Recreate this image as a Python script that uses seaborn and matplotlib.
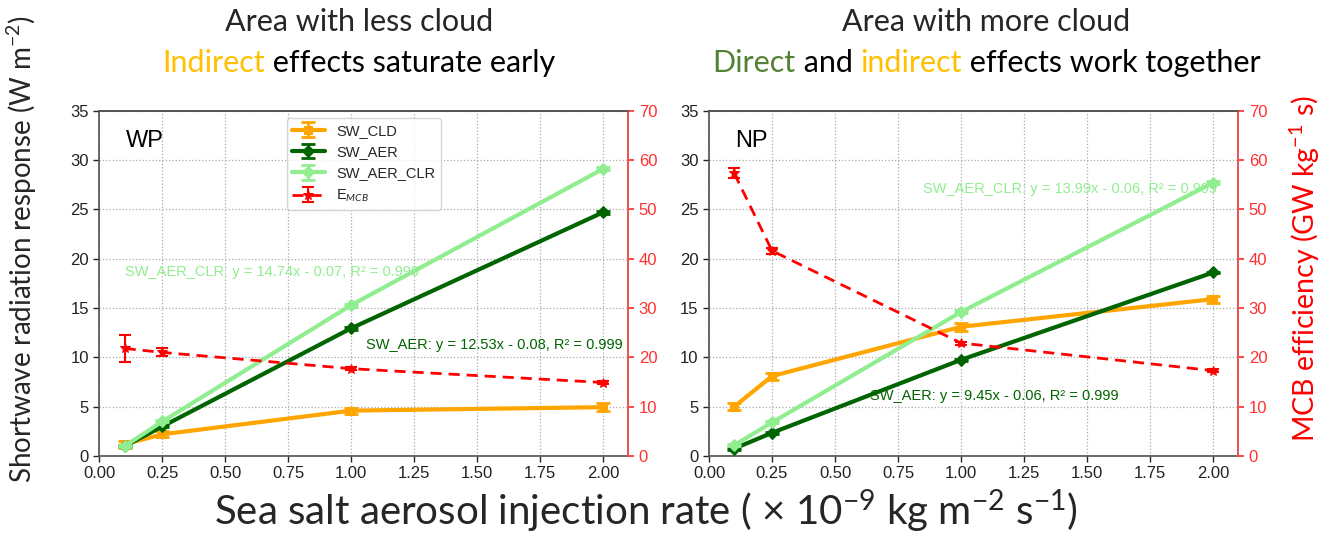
import numpy as np
import pandas as pd
import matplotlib
matplotlib.use("Agg")
import matplotlib.pyplot as plt
import seaborn as sns
from matplotlib.container import ErrorbarContainer

# ---- data -------------------------------------------------------------
rate = [0.1, 0.25, 1.0, 2.0]
regions = ["WP", "NP"]

wp_cld = [1.2, 2.2, 4.6, 4.95]
wp_cld_err = [0.35, 0.3, 0.3, 0.4]
wp_aer = [1.0, 3.0, 12.95, 24.7]
wp_aer_err = [0.1, 0.1, 0.15, 0.15]
wp_clr = [1.0, 3.5, 15.3, 29.1]
wp_clr_err = [0.1, 0.1, 0.15, 0.15]
wp_eff = [21.8, 21.0, 17.7, 14.9]
wp_eff_err = [2.8, 0.8, 0.3, 0.3]

np_cld = [5.0, 8.1, 13.1, 15.9]
np_cld_err = [0.35, 0.35, 0.4, 0.35]
np_aer = [0.75, 2.35, 9.75, 18.6]
np_aer_err = [0.1, 0.1, 0.1, 0.1]
np_clr = [1.1, 3.4, 14.6, 27.7]
np_clr_err = [0.1, 0.1, 0.15, 0.15]
np_eff = [57.3, 41.6, 22.9, 17.3]
np_eff_err = [1.0, 0.6, 0.3, 0.3]

fit_labels = {
    "WP": ("SW_AER_CLR: y = 14.74x - 0.07, R² = 0.999",
           "SW_AER: y = 12.53x - 0.08, R² = 0.999"),
    "NP": ("SW_AER_CLR: y = 13.99x - 0.06, R² = 0.999",
           "SW_AER: y = 9.45x - 0.06, R² = 0.999"),
}
fit_pos = {
    "WP": ((0.10, 18.6), (1.06, 11.3)),
    "NP": ((0.85, 27.1), (0.64, 6.1)),
}

sw_series = ["SW_CLD", "SW_AER", "SW_AER_CLR"]
sw_colors = {"SW_CLD": "orange", "SW_AER": "darkgreen", "SW_AER_CLR": "lightgreen"}
sw_markers = {"SW_CLD": "s", "SW_AER": "D", "SW_AER_CLR": "D"}

region_data = {
    "WP": {"SW_CLD": (wp_cld, wp_cld_err), "SW_AER": (wp_aer, wp_aer_err),
           "SW_AER_CLR": (wp_clr, wp_clr_err), "E": (wp_eff, wp_eff_err)},
    "NP": {"SW_CLD": (np_cld, np_cld_err), "SW_AER": (np_aer, np_aer_err),
           "SW_AER_CLR": (np_clr, np_clr_err), "E": (np_eff, np_eff_err)},
}

# ---- style ------------------------------------------------------------
sns.set_theme(style="ticks")
plt.rcParams["font.family"] = ["Liberation Sans", "DejaVu Sans"]
plt.rcParams["mathtext.fontset"] = "custom"
plt.rcParams["mathtext.rm"] = "Lato"
plt.rcParams["mathtext.it"] = "Lato:italic"
plt.rcParams["mathtext.bf"] = "Lato:bold"

BIG = ["Lato", "DejaVu Sans"]
TITLE_SIZE = 22

fig = plt.figure(figsize=(13.35, 5.41), dpi=100)
ax_pos = {"WP": [0.0745, 0.1571, 0.3961, 0.6383],
          "NP": [0.5311, 0.1571, 0.3965, 0.6383]}

for reg in regions:
    ax = fig.add_axes(ax_pos[reg])
    d = region_data[reg]
    long = pd.DataFrame({
        "rate": rate * 3,
        "value": d["SW_CLD"][0] + d["SW_AER"][0] + d["SW_AER_CLR"][0],
        "series": ["SW_CLD"] * 4 + ["SW_AER"] * 4 + ["SW_AER_CLR"] * 4,
    })
    handles = []
    for s in sw_series:
        sub = long[long["series"] == s]
        sns.lineplot(data=sub, x="rate", y="value", ax=ax, color=sw_colors[s],
                     lw=3, marker=sw_markers[s], markersize=6,
                     markeredgecolor=sw_colors[s], legend=False, zorder=3)
        line = ax.lines[-1]
        eb = ax.errorbar(rate, d[s][0], yerr=d[s][1], fmt="none",
                         ecolor=sw_colors[s], elinewidth=2, capsize=5,
                         capthick=2, zorder=3)
        handles.append(ErrorbarContainer((line, eb.lines[1], eb.lines[2]),
                                         has_xerr=False, has_yerr=True, label=s))

    ax.set_xlim(0, 2.1)
    ax.set_ylim(0, 35)
    ax.set_xticks(np.arange(0, 2.01, 0.25))
    ax.set_xticklabels([f"{v:.2f}" for v in np.arange(0, 2.01, 0.25)])
    ax.set_yticks(range(0, 36, 5))
    ax.grid(True, ls=":", color="#aaaaaa", lw=0.9)
    ax.tick_params(labelsize=12, colors="#222222", length=4, width=1)
    ax.set_xlabel("")
    ax.set_ylabel("")
    for sp in ax.spines.values():
        sp.set_color("#555555")

    ax.text(0.05, 0.895, reg, transform=ax.transAxes, fontsize=17,
            color="black", va="baseline")

    (p_clr, p_aer) = fit_pos[reg]
    ax.text(*p_clr, fit_labels[reg][0], color="lightgreen", fontsize=10.5,
            va="center", zorder=2)
    ax.text(*p_aer, fit_labels[reg][1], color="darkgreen", fontsize=10.5,
            va="center", zorder=2)

    ax2 = ax.twinx()
    eff, eff_err = d["E"]
    sns.lineplot(x=rate, y=eff, ax=ax2, color="red", lw=2, linestyle="--",
                 marker="*", markersize=7, markeredgecolor="red", legend=False)
    e_line = ax2.lines[-1]
    e_line.set_dashes((4, 2.5))
    eb2 = ax2.errorbar(rate, eff, yerr=eff_err, fmt="none", ecolor="red",
                       elinewidth=1.5, capsize=4, capthick=1.5)
    handles.append(ErrorbarContainer((e_line, eb2.lines[1], eb2.lines[2]),
                                     has_xerr=False, has_yerr=True,
                                     label=r"E$_{MCB}$"))
    ax2.set_ylim(0, 70)
    ax2.set_yticks(range(0, 71, 10))
    ax2.set_ylabel("")
    ax2.tick_params(axis="y", colors="#ff3030", labelsize=12, length=4)
    ax2.spines["right"].set_color("#ff5050")
    ax2.spines["left"].set_visible(False)
    ax2.spines["top"].set_color("#555555")
    ax2.spines["bottom"].set_visible(False)
    ax2.grid(False)

    if reg == "WP":
        leg = ax.legend(handles=handles, loc="upper center", fontsize=10.5,
                        frameon=True, fancybox=True, framealpha=0.8,
                        edgecolor="#cccccc", handlelength=2.2)
        leg.set_zorder(10)

# ---- titles and axis labels -------------------------------------------
left_cx, right_cx = 0.269, 0.739
fig.text(left_cx, 0.96, "Area with less cloud", fontsize=TITLE_SIZE,
         family=BIG, ha="center", va="center")
fig.text(right_cx, 0.96, "Area with more cloud", fontsize=TITLE_SIZE,
         family=BIG, ha="center", va="center")

fig.canvas.draw()
renderer = fig.canvas.get_renderer()


def colored_line(xc, yc, parts):
    texts = [fig.text(0, yc, s, color=c, fontsize=TITLE_SIZE, family=BIG,
                      va="center") for s, c in parts]
    widths = [t.get_window_extent(renderer).width for t in texts]
    total = sum(widths)
    x0 = xc * fig.bbox.width - total / 2
    for t, w in zip(texts, widths):
        t.set_x(x0 / fig.bbox.width)
        x0 += w


colored_line(left_cx, 0.884, [("Indirect", "#FFC000"),
                              (" effects saturate early", "black")])
colored_line(right_cx, 0.884, [("Direct", "#548235"), (" and ", "black"),
                               ("indirect", "#FFC000"),
                               (" effects work together", "black")])

fig.text(0.4835, 0.054,
         r"Sea salt aerosol injection rate ( × 10$^{-9}$ kg m$^{-2}$ s$^{-1}$)",
         fontsize=29, family=BIG, ha="center", va="center")
fig.text(0.0165, 0.54, r"Shortwave radiation response (W m$^{-2}$)",
         fontsize=20, family=BIG, rotation=90, ha="center", va="center")
fig.text(0.9775, 0.504, r"MCB efficiency (GW kg$^{-1}$ s)", color="red",
         fontsize=20.5, family=BIG, rotation=90, ha="center", va="center")

fig.savefig("out.png", dpi=100)
